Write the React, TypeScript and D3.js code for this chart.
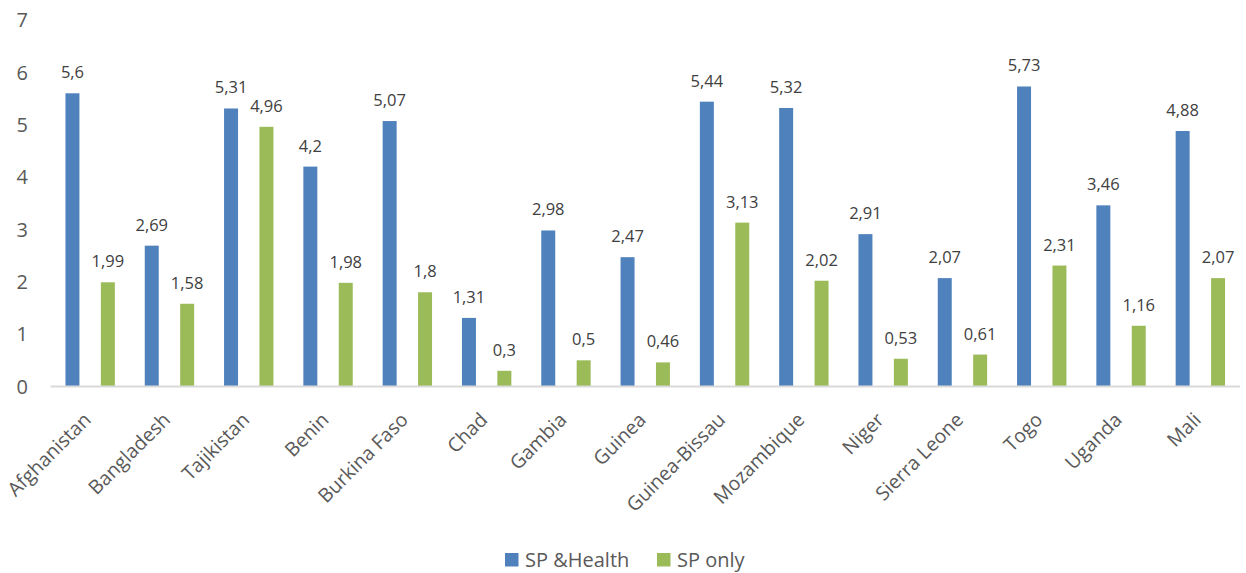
import React from "react";
import * as d3 from "d3";

const categories = ["Afghanistan","Bangladesh","Tajikistan","Benin","Burkina Faso","Chad","Gambia","Guinea","Guinea-Bissau","Mozambique","Niger","Sierra Leone","Togo","Uganda","Mali"];
const spHealth = [5.6,2.69,5.31,4.2,5.07,1.31,2.98,2.47,5.44,5.32,2.91,2.07,5.73,3.46,4.88];
const spOnly = [1.99,1.58,4.96,1.98,1.8,0.3,0.5,0.46,3.13,2.02,0.53,0.61,2.31,1.16,2.07];
const seriesNames = ["SP &Health","SP only"];
const seriesColors = ["#4f81bd","#9bbb59"];
const yTicks = [0,1,2,3,4,5,6,7];

const W = 1246, H = 573;
const FONT = "'Open Sans', sans-serif";

export default function App() {
  const x0 = d3.scaleBand<string>().domain(categories).range([50.5, 1240]).padding(0);
  const x1 = d3.scaleBand<string>().domain(seriesNames).range([0, x0.bandwidth()]).paddingInner(0.605).paddingOuter(0.4225);
  const y = d3.scaleLinear().domain([0, 7]).range([386.5, 20]);
  const data = [spHealth, spOnly];
  const fmt = (v: number) => String(v).replace(".", ",");

  return (
    <svg width={W} height={H} style={{ position: "absolute", left: 0, top: 0, background: "#fff" }}>
      {yTicks.map(t => (
        <text key={t} x={28} y={y(t)} dy="0.36em" textAnchor="end" fontSize={20} fill="#595959" fontFamily={FONT}>{t}</text>
      ))}
      {data.map((vals, si) => vals.map((v, i) => {
        const bx = (x0(categories[i]) as number) + (x1(seriesNames[si]) as number);
        return (
          <g key={`${si}-${i}`}>
            <rect x={bx} y={y(v)} width={x1.bandwidth()} height={y(0) - y(v)} fill={seriesColors[si]} />
            <text x={bx + x1.bandwidth() / 2} y={y(v) - 15} textAnchor="middle" fontSize={16.5} fill="#404040" fontFamily={FONT}>{fmt(v)}</text>
          </g>
        );
      }))}
      <line x1={50.5} x2={1240} y1={y(0)} y2={y(0)} stroke="#d9d9d9" strokeWidth={2} />
      {categories.map(c => {
        const cx = (x0(c) as number) + x0.bandwidth() / 2;
        return (
          <text key={c} transform={`translate(${cx + 2},${421}) rotate(-45)`} textAnchor="end" fontSize={19.5} fill="#595959" fontFamily={FONT}>{c}</text>
        );
      })}
      {seriesNames.map((s, i) => {
        const lx = i === 0 ? 505 : 657;
        return (
          <g key={s}>
            <rect x={lx} y={553} width={13.5} height={13.5} fill={seriesColors[i]} />
            <text x={lx + 20} y={560} dy="0.36em" fontSize={20} fill="#595959" fontFamily={FONT}>{s}</text>
          </g>
        );
      })}
    </svg>
  );
}
